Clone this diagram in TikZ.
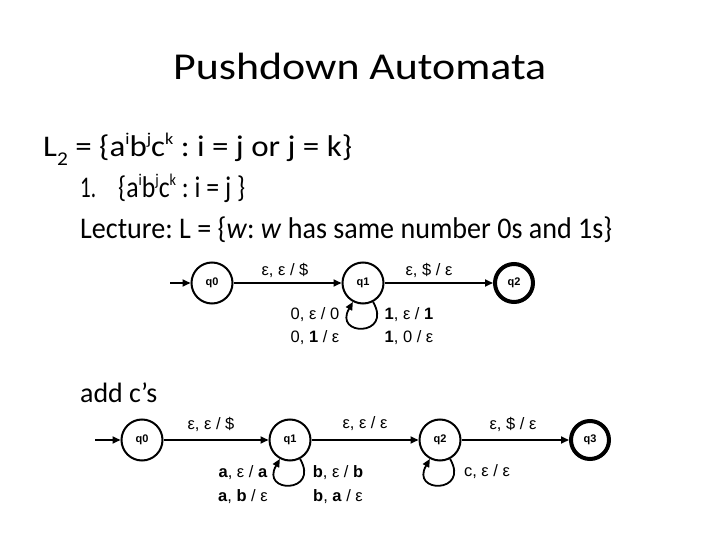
\documentclass[tikz,border=0pt]{standalone}
\usepackage{fontspec}
\usepackage{graphicx}
\setmainfont{Carlito}
\newfontfamily\lblfont{Liberation Sans}
\usetikzlibrary{arrows.meta}
\newcommand{\supx}[1]{\raisebox{0.42em}{\fontsize{0.55em}{0.6em}\selectfont #1}}
\newcommand{\subx}[1]{\raisebox{-0.28em}{\fontsize{0.65em}{0.7em}\selectfont #1}}
\begin{document}
\frenchspacing
\begin{tikzpicture}[x=1pt,y=1pt,
  state/.style={circle,draw,line width=2pt,minimum size=41pt,inner sep=0pt,font=\lblfont\bfseries\fontsize{11}{13}\selectfont},
  accept/.style={state,line width=4pt,minimum size=38pt},
  edge/.style={line width=1.8pt,-{Triangle[length=8pt,width=7pt]}},
  elabel/.style={font=\lblfont\fontsize{16.5}{18}\selectfont,inner sep=0pt},
  bigtext/.style={anchor=base west,inner sep=0pt}]
\useasboundingbox (0,0) rectangle (720,-540);
% texts
\node[bigtext,font=\fontsize{38}{44}\selectfont] (title) at (173,-80) {\resizebox{373pt}{\height}{Pushdown Automata}};
\node[bigtext,font=\fontsize{30}{34}\selectfont] (l2) at (43,-157) {\resizebox{309pt}{\height}{L\subx{2} = \{a\supx{i}b\supx{j}c\supx{k} : i = j or j = k\}}};
\node[bigtext,font=\fontsize{30}{34}\selectfont] (itemnum) at (80,-198) {\resizebox{16pt}{\height}{1.}};
\node[bigtext,font=\fontsize{30}{34}\selectfont] (item) at (118,-198) {\resizebox{127pt}{\height}{\{a\supx{i}b\supx{j}c\supx{k} : i = j \}}};
\node[bigtext,font=\fontsize{30}{34}\selectfont] (lect) at (80,-239) {\resizebox{532pt}{\height}{Lecture: L = \{\textit{w}: \textit{w} has same number 0s and 1s\}}};
\node[bigtext,font=\fontsize{28}{32}\selectfont] (addc) at (80,-402) {\resizebox{77pt}{\height}{add c’s}};
% diagram 1
\node[state] (a0) at (212,-283) {q0};
\node[state] (a1) at (363,-283) {q1};
\node[accept] (a2) at (514,-283) {q2};
\coordinate (as) at (170,-283);
\draw[edge] (as) -- (a0);
\draw[edge] (a0) -- (a1);
\draw[edge] (a1) -- (a2);
\draw[edge] (a1.-62) .. controls +(-60:40) and +(-120:40) .. (a1.-118);
\node[elabel] (la01) at (285,-270) {ε, ε / \$};
\node[elabel] (la12) at (429,-270) {ε, \$ / ε};
\node[elabel] (la1a) at (315,-315) {0, ε / 0};
\node[elabel] (la1b) at (315,-338) {0, \textbf{1} / ε};
\node[elabel] (la1c) at (409,-315) {\textbf{1}, ε / \textbf{1}};
\node[elabel] (la1d) at (409,-338) {\textbf{1}, 0 / ε};
% diagram 2
\node[state] (b0) at (142,-440) {q0};
\node[state] (b1) at (290,-440) {q1};
\node[state] (b2) at (440,-440) {q2};
\node[accept] (b3) at (590,-440) {q3};
\coordinate (bs) at (95,-440);
\draw[edge] (bs) -- (b0);
\draw[edge] (b0) -- (b1);
\draw[edge] (b1) -- (b2);
\draw[edge] (b2) -- (b3);
\draw[edge] (b1.-62) .. controls +(-60:40) and +(-120:40) .. (b1.-118);
\draw[edge] (b2.-62) .. controls +(-60:40) and +(-120:40) .. (b2.-118);
\node[elabel] (lb01) at (211,-424) {ε, ε / \$};
\node[elabel] (lb12) at (365,-424) {ε, ε / ε};
\node[elabel] (lb23) at (513,-424) {ε, \$ / ε};
\node[elabel] (lb1a) at (243,-473) {\textbf{a}, ε / \textbf{a}};
\node[elabel] (lb1b) at (243,-497) {\textbf{a}, \textbf{b} / ε};
\node[elabel] (lb1c) at (338,-473) {\textbf{b}, ε / \textbf{b}};
\node[elabel] (lb1d) at (338,-497) {\textbf{b}, \textbf{a} / ε};
\node[elabel] (lb2a) at (487,-472) {c, ε / ε};
\end{tikzpicture}
\end{document}
